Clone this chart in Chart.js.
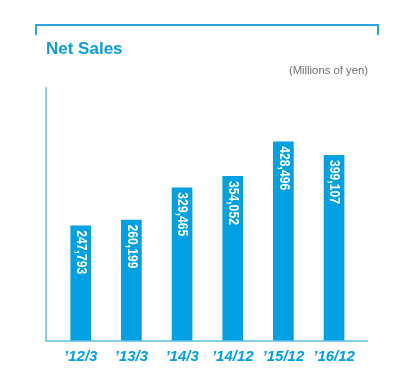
<!DOCTYPE html>
<html><head><meta charset="utf-8">
<script src="https://cdn.jsdelivr.net/npm/chart.js@4/dist/chart.umd.min.js"></script>
<style>html,body{margin:0;padding:0;background:#fff}#wrap{width:399px;height:382px}</style>
</head><body><div id="wrap"><canvas id="c" width="399" height="382"></canvas></div>
<script>
const categories = ['\u201912/3', '\u201913/3', '\u201914/3', '\u201914/12', '\u201915/12', '\u201916/12'];
const netSales = [247793, 260199, 329465, 354052, 428496, 399107];
const titleText = 'Net Sales';
const unitText = '(Millions of yen)';
const yRange = [0, 546000];

const BLUE = '#00a0e2';
const LINE = '#5cbfea';

const fmt = v => v.toLocaleString('en-US');

const decor = {
  id: 'decor',
  beforeDraw(chart) {
    const ctx = chart.ctx;
    ctx.save();
    ctx.strokeStyle = '#27a6e0';
    ctx.lineWidth = 2;
    ctx.beginPath();
    ctx.moveTo(36, 35); ctx.lineTo(36, 25); ctx.lineTo(378, 25); ctx.lineTo(378, 35);
    ctx.stroke();
    ctx.restore();
  },
  afterDatasetsDraw(chart) {
    const ctx = chart.ctx;
    const a = chart.chartArea;
    ctx.save();
    ctx.strokeStyle = LINE;
    ctx.lineWidth = 1.5;
    ctx.beginPath();
    ctx.moveTo(a.left - 9.4, a.top);
    ctx.lineTo(a.left - 9.4, a.bottom);
    ctx.lineTo(a.right + 8.6, a.bottom);
    ctx.stroke();
    const meta = chart.getDatasetMeta(0);
    ctx.fillStyle = '#ffffff';
    ctx.font = 'bold 14px "Liberation Sans", Arial, sans-serif';
    ctx.textAlign = 'left';
    ctx.textBaseline = 'middle';
    meta.data.forEach((bar, i) => {
      ctx.save();
      ctx.translate(bar.x, bar.y + 4.5);
      ctx.rotate(Math.PI / 2);
      ctx.scale(0.87, 1);
      ctx.fillText(fmt(netSales[i]), 0, 0);
      ctx.restore();
    });
    ctx.restore();
  }
};

new Chart(document.getElementById('c'), {
  type: 'bar',
  data: {
    labels: categories,
    datasets: [{
      label: titleText,
      data: netSales,
      backgroundColor: BLUE,
      borderWidth: 0,
      barThickness: 20
    }]
  },
  options: {
    responsive: false,
    animation: false,
    devicePixelRatio: 1,
    layout: { padding: { top: 30, left: 46, right: 31, bottom: 9 } },
    plugins: {
      legend: { display: false },
      tooltip: { enabled: false },
      title: {
        display: true, text: titleText, align: 'start', color: '#0a9ddf',
        font: { family: '"Liberation Sans", Arial, sans-serif', size: 17, weight: 'bold' },
        padding: { top: 8.8, bottom: 5 }
      },
      subtitle: {
        display: true, text: unitText, align: 'end', color: '#707070',
        font: { family: '"Liberation Sans", Arial, sans-serif', size: 11.3 },
        padding: { top: 0.2, bottom: 9.2 }
      }
    },
    scales: {
      x: {
        grid: { display: false, drawTicks: false },
        border: { display: false },
        ticks: {
          color: BLUE, padding: 7, maxRotation: 0, autoSkip: false,
          font: { family: '"Liberation Sans", Arial, sans-serif', size: 15, weight: 'bold', style: 'italic' }
        }
      },
      y: {
        min: yRange[0], max: yRange[1],
        grid: { display: false, drawTicks: false },
        border: { display: false },
        ticks: { display: false },
        afterFit(s) { s.width = 9.4; }
      },
      y2: {
        position: 'right', min: 0, max: 1,
        grid: { display: false, drawTicks: false },
        border: { display: false },
        ticks: { display: false },
        afterFit(s) { s.width = 8.6; }
      }
    }
  },
  plugins: [decor]
});
</script></body></html>
